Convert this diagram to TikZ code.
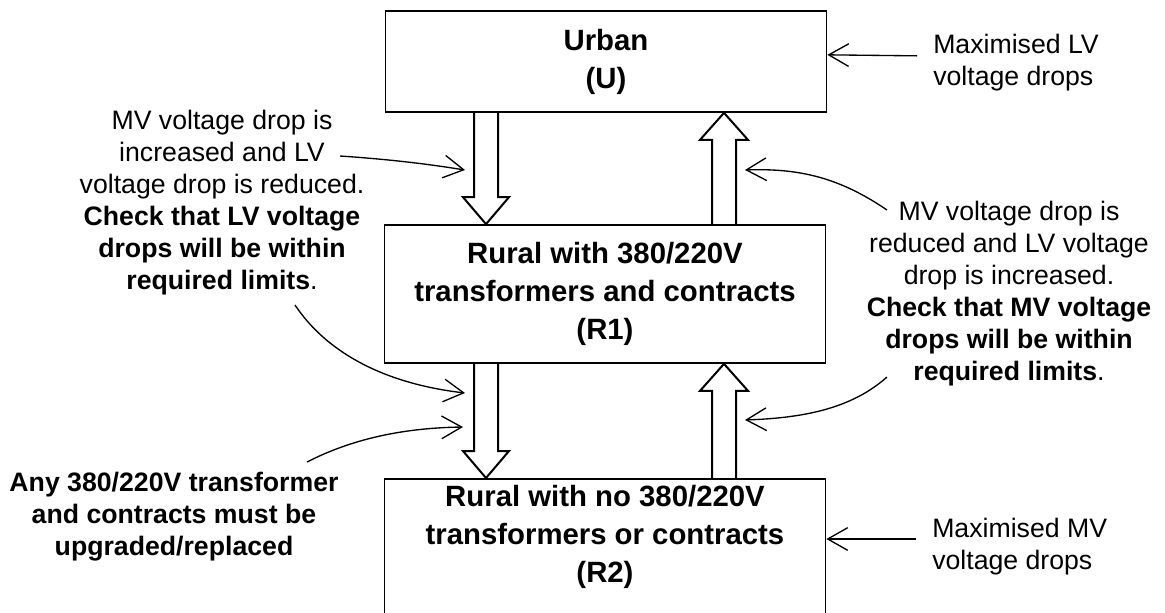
\documentclass[tikz,border=0pt]{standalone}
\usepackage{fontspec}
\setmainfont{Liberation Sans}
\usetikzlibrary{arrows.meta,calc}

\tikzset{
    box/.style={draw, line width=1.3pt, minimum width=330.75pt, align=center,
        font=\fontsize{22}{28.5}\selectfont\bfseries},
    note/.style={align=center, inner sep=0pt, font=\fontsize{20}{24}\selectfont},
    pointer/.style={line width=1pt, -{Straight Barb[length=15pt,width=17pt]}},
    blockarrow/.style={draw, line width=1.5pt, line join=miter},
}

\begin{document}
\begin{tikzpicture}[x=0.75pt, y=-0.75pt]
        \useasboundingbox (0,0) rectangle (1165,612);
        % Boxes for the three areas
        \node[box, minimum height=75.75pt] (U) at (606,61.5) {Urban\\(U)};
        \node[box, minimum height=103.5pt] (R1) at (605,294) {Rural with 380/220V\\transformers and contracts\\(R1)};
        \node[box, minimum height=200pt, anchor=north] (R2) at (605,478) {};
        \node[box, draw=none] (R2text) at (605,537) {Rural with no 380/220V\\transformers or contracts\\(R2)};
        % Block arrows between the boxes
        \coordinate (dn) at (486,0);
        \coordinate (up) at (724,0);
        \foreach \hi/\lo in {U/R1, R1/R2} {
            \draw[blockarrow] ($(\hi.south -| dn)+(-12,0)$) -- ($(\lo.north -| dn)+(-12,-27)$) -- ++(-11,0)
                -- (\lo.north -| dn) -- ++(23,-27) -- ++(-11,0) -- ($(\hi.south -| dn)+(12,0)$);
            \draw[blockarrow] ($(\lo.north -| up)+(-12,0)$) -- ($(\hi.south -| up)+(-12,27)$) -- ++(-12,0)
                -- (\hi.south -| up) -- ++(24,27) -- ++(-12,0) -- ($(\lo.north -| up)+(12,0)$);
        }
        % Notes
        \node[note] (noteL) at (222,202.5) {MV voltage drop is\\increased and LV\\voltage drop is reduced.\\\textbf{Check that LV voltage}\\\textbf{drops will be within}\\\textbf{required limits}.};
        \node[note] (noteR) at (1009,293.5) {MV voltage drop is\\reduced and LV voltage\\drop is increased.\\\textbf{Check that MV voltage}\\\textbf{drops will be within}\\\textbf{required limits}.};
        \node[note, font=\fontsize{20}{24}\selectfont\bfseries] (noteB) at (174,517) {Any 380/220V transformer\\and contracts must be\\upgraded/replaced};
        \node[note, anchor=west, align=left] (maxLV) at (933,62.5) {Maximised LV\\voltage drops};
        \node[note, anchor=west, align=left] (maxMV) at (932,547) {Maximised MV\\voltage drops};
        % Ends of the pointers
        \coordinate (s2) at (340,156);
        \coordinate (t2) at (465,170);
        \coordinate (s3) at (887,210);
        \coordinate (t3) at (745,170);
        \coordinate (s4) at (887,377);
        \coordinate (t4) at (745,420);
        \coordinate (s5) at (295,305);
        \coordinate (t5) at (465,393);
        \coordinate (s6) at (307,462);
        \coordinate (t6) at (463,427);
        % Pointers
        \draw[pointer] ([shift={(-12pt,5pt)}]maxLV.west) -- ([yshift=5pt]U.east);
        \draw[pointer] ([shift={(-12pt,6pt)}]maxMV.west) coordinate (m) -- (m -| R2.east);
        \draw[pointer] (s2) .. controls (400,160) and (440,166) .. (t2);
        \draw[pointer] (s3) .. controls (840,178) and (800,168) .. (t3);
        \draw[pointer] (s4) .. controls (850,410) and (800,418) .. (t4);
        \draw[pointer] (s5) .. controls (325,350) and (380,383) .. (t5);
        \draw[pointer] (s6) .. controls (350,440) and (400,428) .. (t6);
    \end{tikzpicture}
\end{document}
